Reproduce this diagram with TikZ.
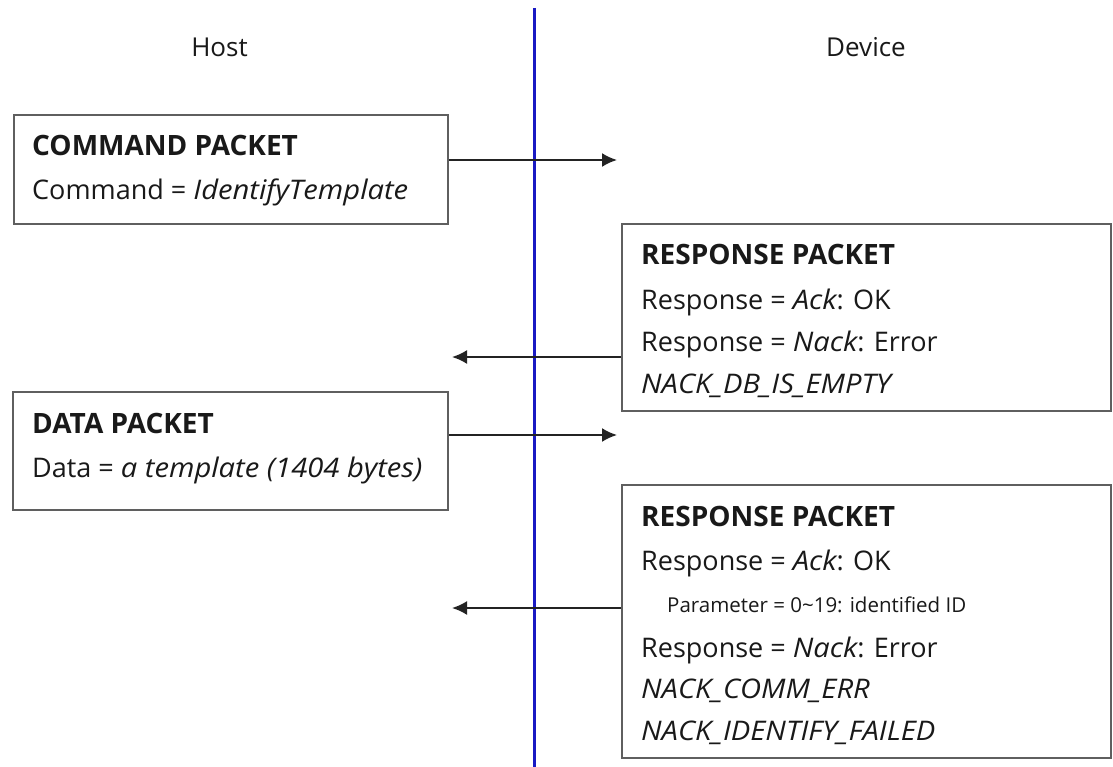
\documentclass[tikz,border=0pt]{standalone}
\usepackage{fontspec}
\setmainfont{Open Sans}
\usetikzlibrary{arrows.meta}
\definecolor{boxgray}{RGB}{95,95,95}
\definecolor{txt}{RGB}{25,25,25}
\definecolor{lifeblue}{RGB}{25,25,195}
\definecolor{arrgray}{RGB}{35,35,35}
\newcommand{\itx}[1]{{\itshape\addfontfeatures{FakeStretch=1.08}#1}}
\tikzset{
  packet/.style={draw=boxgray, line width=2pt, rectangle, inner sep=0pt, anchor=north west},
  ln/.style={anchor=base west, inner sep=0pt, text=txt, font=\fontsize{27}{30}\selectfont},
  hd/.style={ln, font=\fontsize{28}{31}\selectfont\bfseries},
  small/.style={ln, font=\fontsize{20.5}{22}\selectfont},
  side/.style={anchor=base, inner sep=0pt, text=txt, font=\fontsize{26}{29}\selectfont},
  msg/.style={draw=arrgray, line width=2pt, -{Latex[length=15pt,width=14pt]}}
}
\begin{document}
\begin{tikzpicture}[x=1pt,y=-1pt]
\useasboundingbox (0,0) rectangle (1113,767);
\fill[white] (0,0) rectangle (1113,767);
% lifeline
\coordinate (lt) at (534,8);
\coordinate (lb) at (534,767);
\draw[lifeblue, line width=3pt] (lt) -- (lb);
% side labels
\node[side] (host) at (219.5,57) {Host};
\node[side] (dev) at (866,57) {Device};
% boxes
\node[packet, minimum width=434pt, minimum height=109pt] (cmd) at (13,114) {};
\node[packet, minimum width=489pt, minimum height=187pt] (r1) at (621,223) {};
\node[packet, minimum width=435pt, minimum height=118pt] (data) at (12,391) {};
\node[packet, minimum width=489pt, minimum height=273pt] (r2) at (621,484) {};
% texts
\node[hd] (t1) at (32,156) {COMMAND PACKET};
\node[ln] (t2) at (32,200) {Command = \itx{IdentifyTemplate}};
\node[hd] (t3) at (641,265) {RESPONSE PACKET};
\node[ln] (t4) at (641,309) {Response = \itx{Ack}: OK};
\node[ln] (t5) at (641,351) {Response = \itx{Nack}: Error};
\node[ln] (t6) at (641,393) {\itx{NACK\_DB\_IS\_EMPTY}};
\node[hd] (t7) at (32,433) {DATA PACKET};
\node[ln] (t8) at (32,477) {Data = \itx{a template (1404 bytes)}};
\node[hd] (t9) at (641,526) {RESPONSE PACKET};
\node[ln] (t10) at (641,570) {Response = \itx{Ack}: OK};
\node[small] (t11) at (667,612) {Parameter = 0\textasciitilde19: identified ID};
\node[ln] (t12) at (641,657) {Response = \itx{Nack}: Error};
\node[ln] (t13) at (641,698) {\itx{NACK\_COMM\_ERR}};
\node[ln] (t14) at (641,740) {\itx{NACK\_IDENTIFY\_FAILED}};
% arrows
\coordinate (e1) at (617,160);
\coordinate (e2) at (452,357);
\coordinate (e3) at (617,435);
\coordinate (e4) at (452,608);
\draw[msg] (cmd.east |- e1) -- (e1);
\draw[msg] (r1.west |- e2) -- (e2);
\draw[msg] (data.east |- e3) -- (e3);
\draw[msg] (r2.west |- e4) -- (e4);
\end{tikzpicture}
\end{document}
